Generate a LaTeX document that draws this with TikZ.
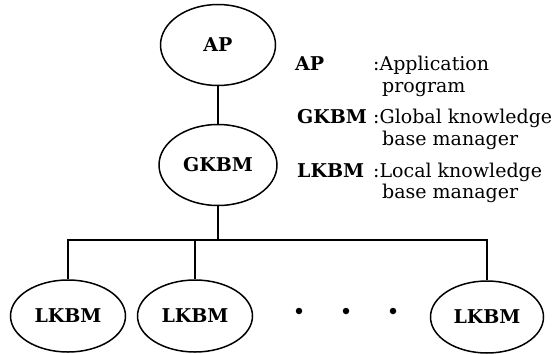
\documentclass[tikz,border=0pt]{standalone}
\usepackage{fontspec}
\setmainfont{DejaVu Serif}
\usetikzlibrary{shapes.geometric}
\begin{document}
\begin{tikzpicture}[x=1pt,y=-1pt,
  lbl/.style={font=\fontsize{19}{22}\selectfont\bfseries},
  txt/.style={font=\fontsize{19}{22}\selectfont, anchor=base west, inner sep=0pt},
  keyname/.style={font=\fontsize{19}{22}\selectfont\bfseries, anchor=base west, inner sep=0pt},
  oval/.style={ellipse, draw, line width=1.5pt, inner sep=0pt, lbl},
  wire/.style={line width=1.5pt},
  dotmark/.style={circle, fill, inner sep=0pt, minimum size=6.5pt}]
\useasboundingbox (0,0) rectangle (553,353);
\node[oval, minimum width=115, minimum height=81] (AP) at (218,45) {AP};
\node[oval, minimum width=118, minimum height=81] (GK) at (218,165) {GKBM};
\node[oval, minimum width=115, minimum height=72] (L1) at (68,316) {LKBM};
\node[oval, minimum width=115, minimum height=72] (L2) at (195,316) {LKBM};
\node[oval, minimum width=113, minimum height=72] (L3) at (487,317) {LKBM};
\coordinate (bus) at (218,240);
\draw[wire] (AP) -- (GK);
\draw[wire] (GK.south) -- (bus);
\draw[wire] (L1.north) |- (bus) -| (L3.north);
\draw[wire] (L2.north) -- (L2.north |- bus);
\node[dotmark] (d1) at (299,311) {};
\node[dotmark] (d2) at (346,311) {};
\node[dotmark] (d3) at (393,311) {};
\node[keyname] (k1) at (295,70) {AP};
\node[txt] (t1a) at (373,70) {:Application};
\node[txt] (t1b) at (382,92) {program};
\node[keyname] (k2) at (297,123) {GKBM};
\node[txt] (t2a) at (373,123) {:Global knowledge};
\node[txt] (t2b) at (382,145) {base manager};
\node[keyname] (k3) at (297,177) {LKBM};
\node[txt] (t3a) at (373,177) {:Local knowledge};
\node[txt] (t3b) at (382,198) {base manager};
\end{tikzpicture}
\end{document}
